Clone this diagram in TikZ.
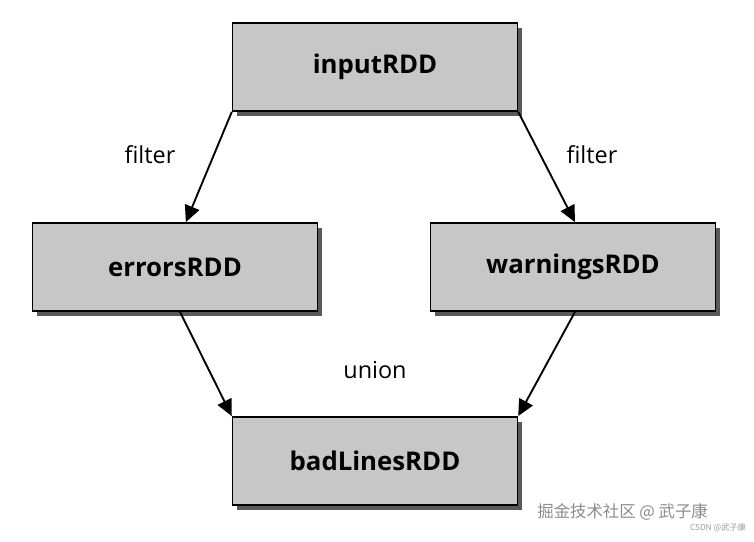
\documentclass[tikz,border=0pt]{standalone}
\usepackage{fontspec}
\setmainfont{Open Sans}
\newfontfamily\cjk{Noto Sans CJK SC}
\usetikzlibrary{arrows.meta,shadows}
\begin{document}
\begin{tikzpicture}[x=0.03cm,y=-0.03cm]
	\tikzset{
		rdd/.style={draw=black,line width=1.2pt,fill=black!22,minimum width=8.55cm,minimum height=2.65cm,
			font=\fontsize{22}{26}\selectfont\bfseries,
			drop shadow={shadow xshift=4pt,shadow yshift=-4pt,fill=black!65,opacity=1}},
		op/.style={font=\fontsize{20}{24}\selectfont},
		flow/.style={line width=1.6pt,-{Triangle[length=14pt,width=13pt]}}
	}
	\useasboundingbox (0,0) rectangle (754,542);
	\node[rdd] (input) at (375,67) {inputRDD};
	\node[rdd] (errors) at (175,267) {errorsRDD};
	\node[rdd] (warnings) at (573,267) {warningsRDD};
	\node[rdd] (bad) at (375,461) {badLinesRDD};
	\node[op] (f1) at (150,155) {filter};
	\node[op] (f2) at (592,155) {filter};
	\node[op] (un) at (375,370) {union};
	\draw[flow] (input.south west) -- ([xshift=5pt]errors.north east -| 180,0);
	\draw[flow] (input.south east) -- ([xshift=0pt]warnings.north west -| 575,0);
	\draw[flow] (errors.south -| 180,0) -- (bad.north west);
	\draw[flow] (warnings.south -| 575,0) -- (bad.north east);
	% watermark
	\node[text=black!45,anchor=east,font=\cjk\fontsize{14}{16}\selectfont] (wm) at (712,512) {掘金技术社区 @ 武子康};
	\node[text=black!40,anchor=east,font=\cjk\fontsize{7}{8}\selectfont] (wm2) at (750,528) {CSDN @武子康};
\end{tikzpicture}
\end{document}
